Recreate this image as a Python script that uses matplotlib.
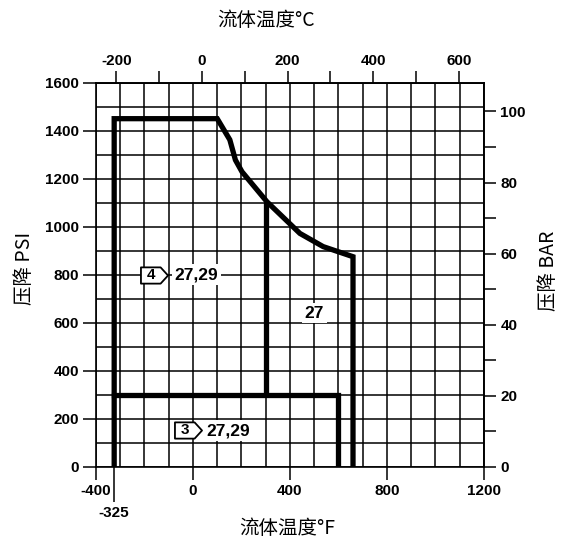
import matplotlib
matplotlib.use("Agg")
import matplotlib.pyplot as plt
from matplotlib.path import Path
from matplotlib.ticker import FixedLocator, FixedFormatter, NullFormatter
import numpy as np

# outer envelope (label 4), temperature in deg F, pressure in psi
outer_temp_f = [-325, -325, 100, 152, 175, 202, 305, 441, 537, 660, 660]
outer_psi = [0, 1450, 1450, 1362, 1278, 1229, 1104, 972, 917, 875, 0]

# inner envelope (label 3)
inner_temp_f = [-325, 600, 600]
inner_psi = [300, 300, 0]

# divider between the regions
divider_temp_f = [300, 300]
divider_psi = [300, 1104]

# region labels
tag_numbers = ["4", "3"]
tag_x = [-160, -20]
tag_y = [800, 155]
note_texts = ["27,29", "27,29"]
note_x = [-75, 55]
note_y = [800, 150]
mid_label = "27"
mid_x, mid_y = 500, 640

f_ticks = [-400, 0, 400, 800, 1200]
psi_ticks = list(range(0, 1601, 200))
c_ticks = [-200, 0, 200, 400, 600]
c_minor = [-100, 100, 300, 500]
bar_ticks = [0, 20, 40, 60, 80, 100]
bar_minor = [10, 30, 50, 70, 90]

# scale relations as printed on the chart (slightly off the exact conversions)
F_PER_C = 1.767
F_AT_0C = 36.7
PSI_PER_BAR = 14.8

latin = ["Liberation Sans", "DejaVu Sans"]
cjk = ["Noto Sans CJK SC", "DejaVu Sans"]
plt.rcParams["font.family"] = latin
plt.rcParams["font.weight"] = "bold"
plt.rcParams["axes.unicode_minus"] = False

fig = plt.figure(figsize=(5.68, 5.40), dpi=100)
ax = fig.add_axes([0.169, 0.1357, 0.683, 0.7112])
ax.set_xlim(-400, 1200)
ax.set_ylim(0, 1600)

# grid every 100 F and 100 psi
for gx in np.arange(-400, 1201, 100):
    ax.axvline(gx, color="black", lw=1.1, zorder=1)
for gy in np.arange(0, 1601, 100):
    ax.axhline(gy, color="black", lw=1.1, zorder=1)

lw_thick = 3.8
ax.plot(outer_temp_f, outer_psi, color="black", lw=lw_thick, solid_joinstyle="miter", zorder=3)
ax.plot(inner_temp_f, inner_psi, color="black", lw=lw_thick, solid_joinstyle="miter", zorder=3)
ax.plot(divider_temp_f, divider_psi, color="black", lw=lw_thick, solid_capstyle="butt", zorder=3)

# tag shaped markers
tag_path = Path([(-1, -0.6), (0.45, -0.6), (1, 0), (0.45, 0.6), (-1, 0.6), (-1, -0.6)],
                [Path.MOVETO, Path.LINETO, Path.LINETO, Path.LINETO, Path.LINETO, Path.CLOSEPOLY])
for num, tx, ty, nt, nx, ny in zip(tag_numbers, tag_x, tag_y, note_texts, note_x, note_y):
    ax.plot([tx], [ty], marker=tag_path, markersize=19.5, markerfacecolor="white",
            markeredgecolor="black", markeredgewidth=1.3, zorder=5)
    ax.annotate(num, (tx, ty), xytext=(-2.5, 0), textcoords="offset points",
                ha="center", va="center", fontsize=11, fontweight="bold", zorder=6)
    ax.text(nx, ny, nt, ha="left", va="center", fontsize=12.5, fontweight="bold", zorder=6,
            bbox=dict(facecolor="white", edgecolor="none", pad=2))
ax.text(mid_x, mid_y, mid_label, ha="center", va="center", fontsize=12.5, fontweight="bold",
        zorder=6, bbox=dict(facecolor="white", edgecolor="none", pad=2))

for sp in ax.spines.values():
    sp.set_linewidth(1.2)

ax.set_xticks(f_ticks)
ax.set_yticks(psi_ticks)
ax.xaxis.set_minor_locator(FixedLocator([-325]))
ax.xaxis.set_minor_formatter(FixedFormatter(["-325"]))
ax.tick_params(axis="x", which="major", length=9.4, width=1.1, pad=3.4, labelsize=11)
ax.tick_params(axis="x", which="minor", length=25, width=1.1, pad=3.0, labelsize=11)
ax.tick_params(axis="y", which="major", length=9.4, width=1.1, pad=3, labelsize=11)
ax.tick_params(top=False, right=False)


def f2c(f):
    return (np.asarray(f) - F_AT_0C) / F_PER_C


def c2f(c):
    return np.asarray(c) * F_PER_C + F_AT_0C


def psi2bar(p):
    return np.asarray(p) / PSI_PER_BAR


def bar2psi(b):
    return np.asarray(b) * PSI_PER_BAR


top = ax.secondary_xaxis("top", functions=(f2c, c2f))
top.set_xticks(c_ticks)
top.xaxis.set_minor_locator(FixedLocator(c_minor))
top.xaxis.set_minor_formatter(NullFormatter())
top.tick_params(which="both", length=8.8, width=1.1, pad=1.5, labelsize=11)
top.spines["top"].set_linewidth(1.2)

right = ax.secondary_yaxis("right", functions=(psi2bar, bar2psi))
right.set_yticks(bar_ticks)
right.yaxis.set_minor_locator(FixedLocator(bar_minor))
right.yaxis.set_minor_formatter(NullFormatter())
right.tick_params(which="both", length=8.8, width=1.1, pad=3, labelsize=11)
right.spines["right"].set_linewidth(1.2)

fig.text(266 / 568, 1 - 21 / 540, "流体温度°C", ha="center", va="center", fontsize=14,
         family=cjk, fontweight="normal")
fig.text(287.5 / 568, 1 - 528 / 540, "流体温度°F", ha="center", va="center", fontsize=14,
         family=cjk, fontweight="normal")
fig.text(24 / 568, 1 - 268 / 540, "压降 PSI", ha="center", va="center", rotation=90,
         fontsize=14, family=cjk, fontweight="normal")
fig.text(549 / 568, 1 - 271 / 540, "压降 BAR", ha="center", va="center", rotation=90,
         fontsize=14, family=cjk, fontweight="normal")

fig.savefig("out.png", dpi=100)
